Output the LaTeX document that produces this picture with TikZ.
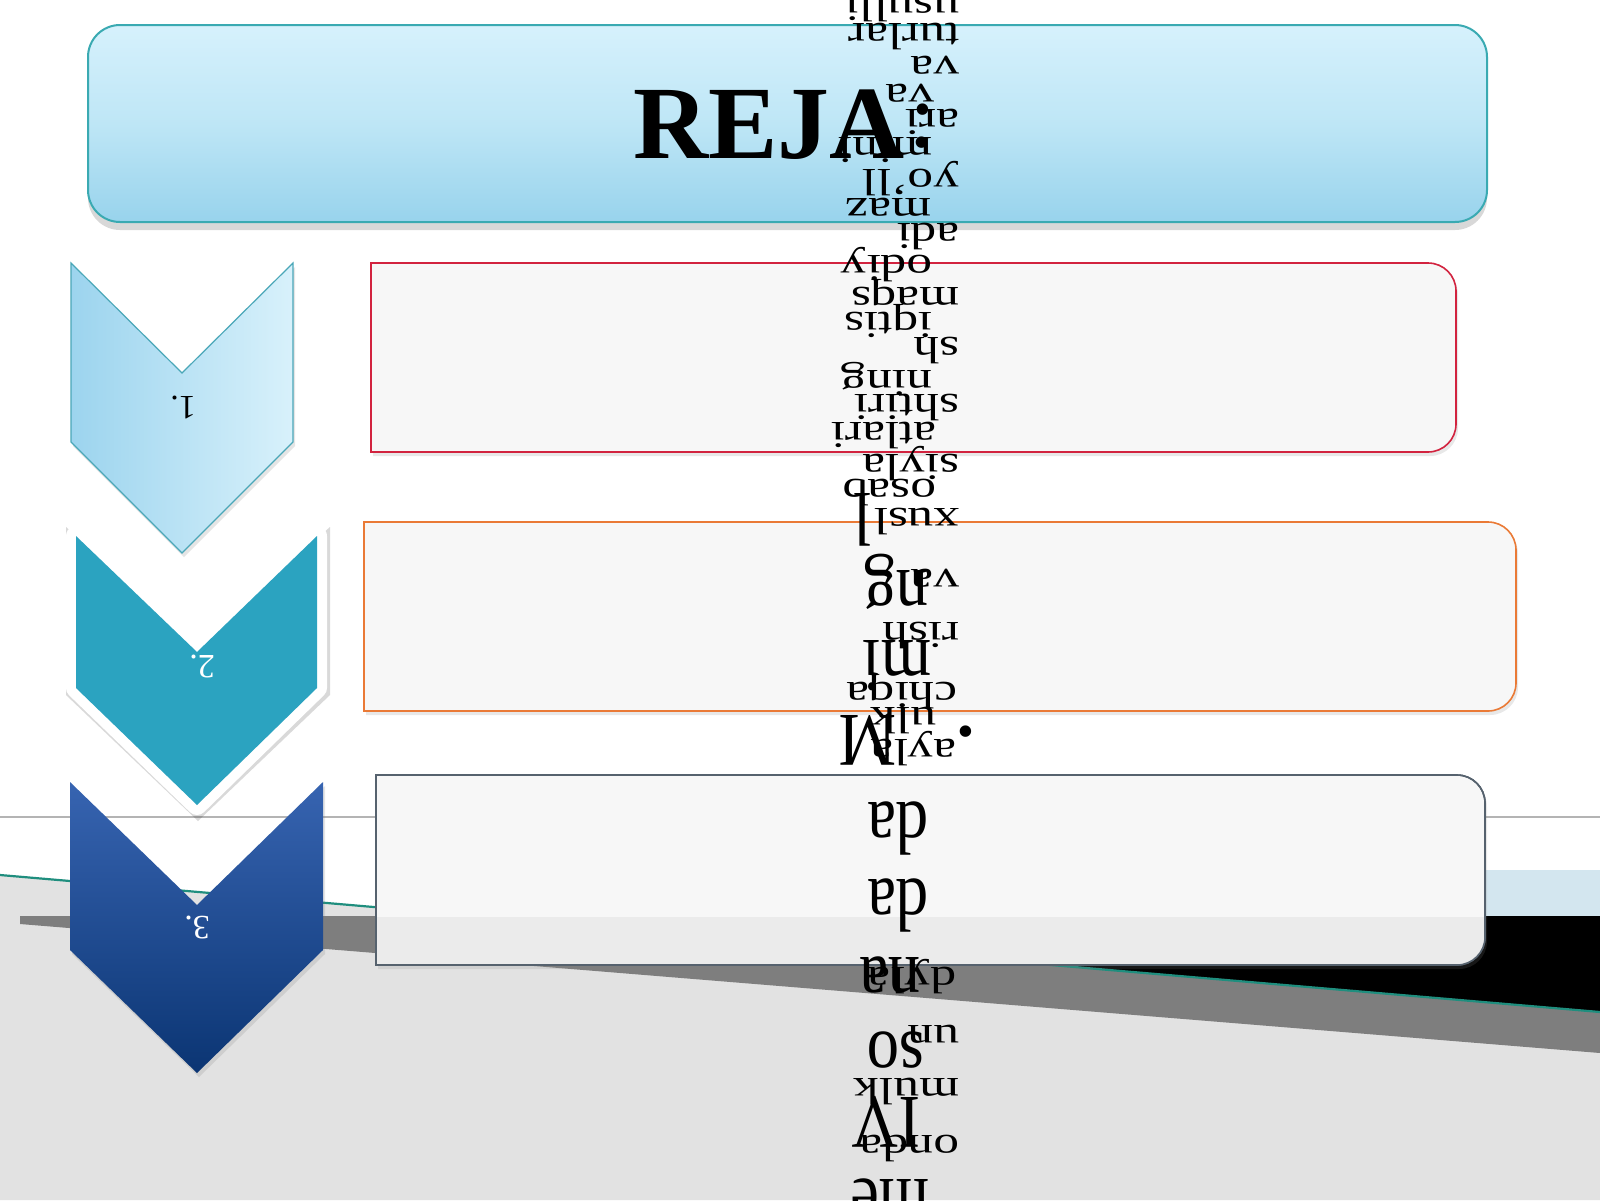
\documentclass[tikz,border=0pt]{standalone}
\usepackage{fontspec}
\setmainfont{Liberation Serif}
\usetikzlibrary{shadows}
\definecolor{titletop}{HTML}{D6F1FC}
\definecolor{titlemid}{HTML}{BEE6F6}
\definecolor{titlebot}{HTML}{98D3EC}
\definecolor{titleborder}{HTML}{3AAAB2}
\definecolor{chevAL}{HTML}{9CD4EE}
\definecolor{chevAR}{HTML}{D8F1FB}
\definecolor{chevAborder}{HTML}{4AA7B8}
\definecolor{chevB}{HTML}{2BA3C0}
\definecolor{chevCtop}{HTML}{3764B1}
\definecolor{chevCbot}{HTML}{0B3573}
\definecolor{boxAborder}{HTML}{D2233F}
\definecolor{boxBborder}{HTML}{EA7A36}
\definecolor{boxCborder}{HTML}{56626E}
\definecolor{boxfill}{HTML}{F7F7F7}
\definecolor{boxClow}{HTML}{EBEBEB}
\definecolor{linegray}{HTML}{B4B4B4}
\definecolor{bandblue}{HTML}{D3E6EF}
\definecolor{texgray}{HTML}{E2E2E2}
\definecolor{bandgray}{HTML}{7E7E7E}
\definecolor{tealline}{HTML}{1F8E7E}
\newcommand\rrpath[4]{(#1,#2) -- ({#3-28},#2) arc[start angle=-90,end angle=0,radius=28] -- (#3,{#4-28}) arc[start angle=0,end angle=90,radius=28] -- (#1,#4) -- cycle}
\begin{document}
\begin{tikzpicture}[x=0.5pt,y=-0.5pt,
  sm/.style={rotate=180,xscale=1.35,anchor=west,inner sep=0pt,font=\fontsize{19}{19}\selectfont},
  bigt/.style={rotate=180,xscale=0.85,inner sep=0pt,font=\fontsize{38}{38}\selectfont},
  bul/.style={inner sep=0pt,font=\fontsize{24}{24}\selectfont},
  lbl/.style={rotate=180,inner sep=0pt,font=\fontsize{17}{17}\selectfont},
  rowbox/.style={fill=boxfill,line width=0.8pt,drop shadow={opacity=0.18,shadow xshift=1pt,shadow yshift=-2pt}},
  chevshadow/.style={drop shadow={opacity=0.2,shadow xshift=1pt,shadow yshift=-2pt}}]
\clip (0,0) rectangle (1600,1200);
\fill[white] (0,0) rectangle (1600,1200);
% background
\draw[linegray,line width=0.6pt] (0,817) -- (1600,817);
\fill[bandblue] (1250,870) rectangle (1600,916);
\fill[texgray] (0,875) -- (1600,1012) -- (1600,1200) -- (0,1200) -- cycle;
\fill[bandgray] (20,916) -- (1600,916) -- (1600,1053) -- (20,924) -- cycle;
\fill[black] (490,916) -- (1600,916) -- (1600,1012) -- cycle;
\draw[tealline,line width=1.1pt] (0,875) -- (1600,1012);
% title
\path[draw=titleborder,line width=1pt,rounded corners=16pt,top color=titletop,bottom color=titlebot,middle color=titlemid,drop shadow={opacity=0.3,shadow xshift=0pt,shadow yshift=-4pt}] (88,25) rectangle (1487,222);
\node[font=\fontsize{52}{52}\selectfont\bfseries,anchor=base,inner sep=0pt] (reja) at (769,158) {REJA};
% rows
\path[rowbox,draw=boxAborder] \rrpath{371}{263}{1456}{452};
\path[rowbox,draw=boxBborder] \rrpath{364}{522}{1516}{711};
\path[rowbox,draw=boxCborder] \rrpath{376}{775}{1485}{965};
\begin{scope}
\clip \rrpath{376}{775}{1485}{965};
\fill[boxClow] (376,917) rectangle (1485,965);
\end{scope}
\draw[boxCborder,line width=0.8pt] \rrpath{376}{775}{1485}{965};
% chevrons
\path[draw=chevAborder,line width=0.6pt,left color=chevAL,right color=chevAR,chevshadow] (71,263) -- (182,373) -- (293,263) -- (293,442) -- (182,553) -- (71,442) -- cycle;
\node[lbl] (l1) at (183,407) {1.};
\fill[black,opacity=0.15] (66,527) -- (197,644) -- (330,527) -- (330,695) -- (198,821) -- (66,695) -- cycle;
\draw[white,line width=10pt,line join=round] (76,536) -- (197,652) -- (317,536) -- (317,688) -- (197,805) -- (76,688) -- cycle;
\fill[chevB] (76,536) -- (197,652) -- (317,536) -- (317,688) -- (197,805) -- (76,688) -- cycle;
\node[lbl,text=white] (l2) at (202,667) {2.};
\path[top color=chevCtop,bottom color=chevCbot,chevshadow] (70,782) -- (197,905) -- (323,782) -- (323,950) -- (197,1073) -- (70,950) -- cycle;
\node[lbl,text=white] (l3) at (197,927) {3.};
% big text column
\node[bigt] (g1) at (863,520) {l};
\node[bigt] (g2) at (896,582) {ng};
\node[bigt] (g3) at (897,666) {mi};
\node[bigt] (g4) at (868,740) {M};
\node[bigt] (g5) at (898,828) {da};
\node[bigt] (g6) at (898,905) {da};
\node[bigt] (g7) at (890,975) {na};
\node[bigt] (g8) at (896,1050) {so};
\node[bigt] (g9) at (886,1122) {IV};
\node[bigt] (g10) at (890,1197) {me};
% small text column
\node[sm] (s0) at (960,8) {usulli};
\node[sm] (s1) at (960,36.5) {turlar};
\node[sm] (s2) at (960,65) {va};
\node[sm] (s3) at (935,93.5) {va};
\node[sm] (s4) at (960,122) {ari};
\node[sm] (s5) at (933,150.5) {mini};
\node[sm] (s6) at (960,179) {yo'll};
\node[sm] (s7) at (932,207.5) {maz};
\node[sm] (s8) at (960,236) {adi};
\node[sm] (s9) at (933,264.5) {odiy};
\node[sm] (s10) at (960,293) {maqs};
\node[sm] (s11) at (933,321.5) {iqtis};
\node[sm] (s12) at (960,350) {sh};
\node[sm] (s13) at (933,378.5) {ning};
\node[sm] (s14) at (960,407) {shtiri};
\node[sm] (s15) at (937,435.5) {atlari};
\node[sm] (s16) at (960,464) {siyla};
\node[sm] (s17) at (937,492.5) {osab};
\node[sm] (s18) at (960,521) {xusl};
\node[sm] (s20) at (960,578) {va};
\node[sm] (s22) at (960,635) {rish};
\node[sm] (s24) at (958,692) {chiqa};
\node[sm] (s25) at (937,720.5) {ulk};
\node[sm] (s26) at (957,749) {ayla};
\node[sm] (s34) at (957,977) {dyla};
\node[sm] (s36) at (960,1034) {un};
\node[sm] (s38) at (960,1091) {mulk};
\node[sm] (s40) at (960,1148) {onda};
\node[bul] (b1) at (923,115) {•};
\node[bul] (b2) at (922,148) {•};
\node[bul] (b3) at (966,737) {•};
\end{tikzpicture}
\end{document}
